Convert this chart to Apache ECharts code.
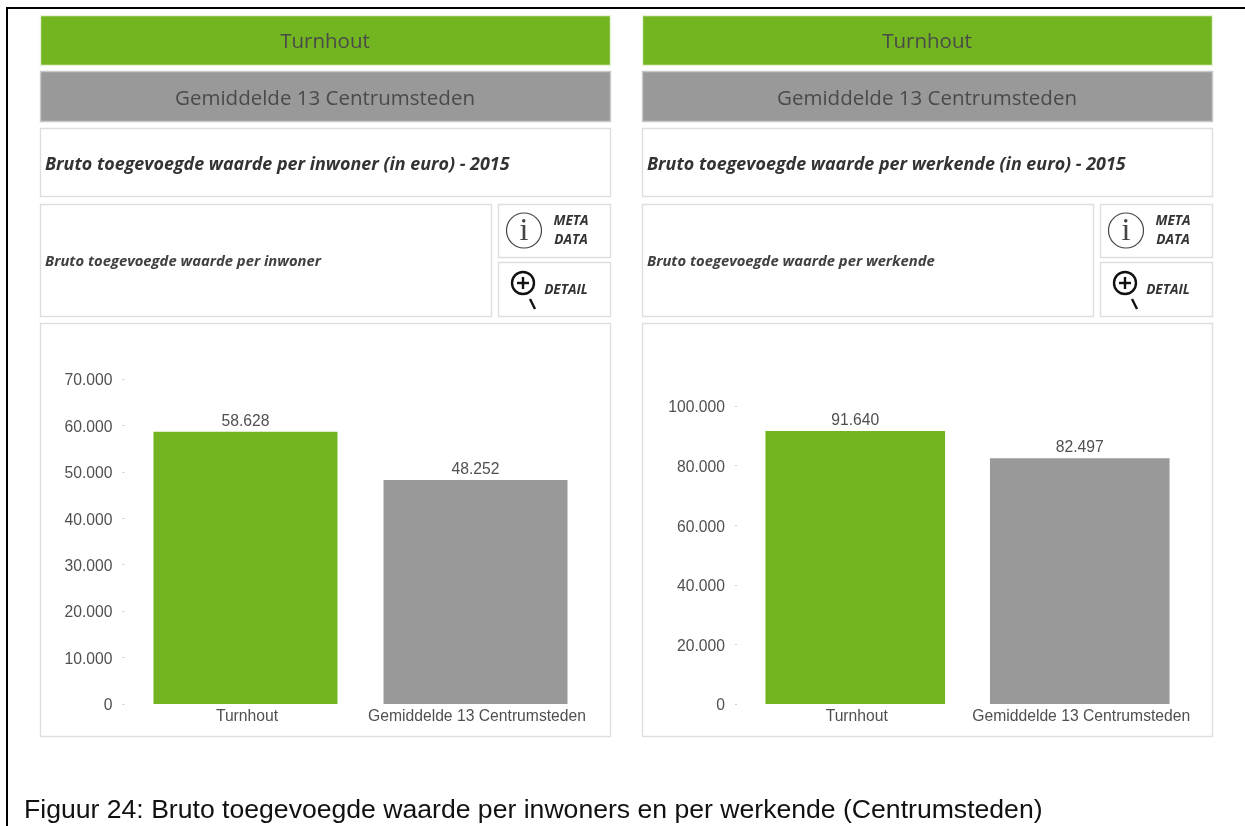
<!DOCTYPE html>
<html>
<head>
<meta charset="utf-8">
<style>html,body{margin:0;padding:0;background:#fff}#c{width:1245px;height:826px}</style>
<script src="https://cdn.jsdelivr.net/npm/echarts@6/dist/echarts.min.js"></script>
</head>
<body>
<div id="c"></div>
<script>
const categories = ['Turnhout', 'Gemiddelde 13 Centrumsteden'];
const inwonerValues = [58628, 48252];
const werkendeValues = [91640, 82497];
const barColors = ['#72b520', '#999999'];
const inwonerTitle = 'Bruto toegevoegde waarde per inwoner (in euro) - 2015';
const werkendeTitle = 'Bruto toegevoegde waarde per werkende (in euro) - 2015';
const inwonerSub = 'Bruto toegevoegde waarde per inwoner';
const werkendeSub = 'Bruto toegevoegde waarde per werkende';
const caption = 'Figuur 24: Bruto toegevoegde waarde per inwoners en per werkende (Centrumsteden)';

const nl = v => String(v).replace(/\B(?=(\d{3})+$)/g, '.');
const UI = '"Open Sans"', AX = '"Liberation Sans"';
const EDGE = '#dedede';

function box(x, y, w, h, fill, stroke) {
  return {type:'rect', silent:true, shape:{x:x+.5, y:y+.5, width:w, height:h},
          style:{fill:fill||'#fff', stroke:stroke||EDGE, lineWidth:1.4}};
}
function txt(x, y, s, size, o) {
  o = o || {};
  return {type:'text', silent:true, x:x, y:y, style:{text:s, x:0, y:0, fill:o.c||'#404040',
    font:(o.st||'')+' '+size+'px '+(o.f||UI), align:o.a||'left', verticalAlign:'middle'}};
}
function panel(dx, title, sub) {
  return [
    box(40+dx,15,570,50,barColors[0],'#e9f3dc'),
    box(40+dx,71,570,50,barColors[1],'#c8c8c8'),
    txt(325+dx,42,categories[0],20.5,{a:'center',c:'#4a4a4a'}),
    txt(325+dx,99,categories[1],20.5,{a:'center',c:'#4a4a4a'}),
    box(40+dx,128,570,68),
    txt(45+dx,165,title,17.9,{st:'italic bold',c:'#333'}),
    box(40+dx,204,451,112),
    txt(45+dx,262,sub,14.8,{st:'italic bold',c:'#404040'}),
    box(498+dx,204,112,53),
    box(498+dx,262,112,54),
    {type:'circle',silent:true,shape:{cx:524+dx,cy:230.5,r:17.5},style:{fill:'#fff',stroke:'#444',lineWidth:1.2}},
    txt(524+dx,232,'i',32,{a:'center',f:'"Liberation Serif"',c:'#444'}),
    txt(571+dx,221,'META',13.6,{a:'center',st:'italic bold',c:'#333'}),
    txt(571+dx,240,'DATA',13.6,{a:'center',st:'italic bold',c:'#333'}),
    {type:'circle',silent:true,shape:{cx:523+dx,cy:283,r:11},style:{fill:'#fff',stroke:'#111',lineWidth:2.4}},
    {type:'line',silent:true,shape:{x1:517+dx,y1:283,x2:529+dx,y2:283},style:{stroke:'#111',lineWidth:2.4}},
    {type:'line',silent:true,shape:{x1:523+dx,y1:277,x2:523+dx,y2:289},style:{stroke:'#111',lineWidth:2.4}},
    {type:'line',silent:true,shape:{x1:530+dx,y1:299,x2:535+dx,y2:309},style:{stroke:'#111',lineWidth:2.4}},
    txt(566+dx,290,'DETAIL',13.6,{a:'center',st:'italic bold',c:'#333'}),
    box(40+dx,323,570,413)
  ];
}
const graphic = [
  ...panel(0, inwonerTitle, inwonerSub),
  ...panel(602, werkendeTitle, werkendeSub),
  {type:'line',silent:true,shape:{x1:6,y1:8,x2:1245,y2:8},style:{stroke:'#000',lineWidth:2}},
  {type:'line',silent:true,shape:{x1:7,y1:7,x2:7,y2:826},style:{stroke:'#000',lineWidth:2}},
  txt(24,811,caption,26.6,{f:'"Liberation Sans"',c:'#111'})
];
const grids = [
  {left:130.5, width:460, top:379, height:325},
  {left:743, width:449, top:406, height:298}
];
const yCommon = i => ({
  type:'value', gridIndex:i, min:0, offset:6, splitLine:{show:false},
  axisLine:{show:false}, axisTick:{show:true,length:2,lineStyle:{color:'#cccccc'}},
  axisLabel:{color:'#505050',fontFamily:AX,fontSize:15.7,margin:12,
    formatter:v=>'{v|'+nl(v)+'}',
    rich:{v:{color:'#505050',fontFamily:AX,fontSize:15.7,padding:[4,0,0,0]}}}
});
const xCommon = i => ({
  type:'category', gridIndex:i, data:categories,
  axisLine:{show:false}, axisTick:{show:false},
  axisLabel:{color:'#505050',fontFamily:AX,fontSize:15.7,margin:5,padding:[0,0,0,3],interval:0}
});
const series = (i, vals) => ({
  type:'bar', xAxisIndex:i, yAxisIndex:i, barWidth:'80%', silent:true, animation:false,
  data: vals.map((v,k)=>({value:v,itemStyle:{color:barColors[k]}})),
  label:{show:true,position:'top',distance:2,color:'#505050',fontFamily:AX,fontSize:15.7,formatter:p=>nl(p.value)}
});
const chart = echarts.init(document.getElementById('c'), null, {renderer:'canvas'});
chart.setOption({
  animation:false, backgroundColor:'#fff',
  grid:grids,
  xAxis:[xCommon(0),xCommon(1)],
  yAxis:[{...yCommon(0),max:70000,interval:10000},{...yCommon(1),max:100000,interval:20000}],
  series:[series(0,inwonerValues),series(1,werkendeValues)],
  graphic:{elements:graphic.map(g=>({...g,z:-1}))}
});
</script>
</body>
</html>
